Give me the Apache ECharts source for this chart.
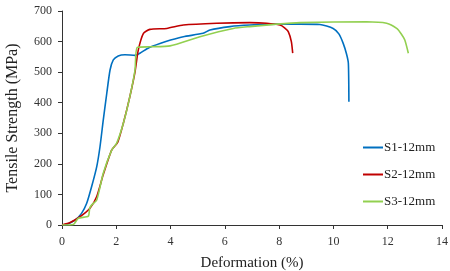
<!DOCTYPE html>
<html>
<head>
<meta charset="utf-8">
<script src="https://cdn.jsdelivr.net/npm/echarts@6/dist/echarts.min.js"></script>
<style>
  html, body { margin: 0; padding: 0; background: #fff; }
  #chart { width: 450px; height: 271px; }
</style>
</head>
<body>
<div id="chart"></div>
<script>
// deformation (%) / tensile strength (MPa) pairs
var s1X = [0, 0.17, 0.48, 0.72, 0.91, 1.09, 1.28, 1.4, 1.52, 1.65, 1.77, 1.89, 2.07, 2.32, 2.69, 2.87, 3.2, 3.61, 4.0, 4.47, 5.2, 5.45, 6.19, 6.92, 7.91, 8.77, 9.5, 9.99, 10.2, 10.36, 10.48, 10.55, 10.57];
var s1Y = [0, 2, 16, 38, 71, 125, 191, 256, 343, 431, 507, 540, 553, 557, 555, 562, 580, 594, 605, 616, 627, 638, 649, 654, 657, 657, 656, 643, 625, 594, 560, 529, 403];

var s2X = [0, 0.3, 0.66, 1.03, 1.28, 1.52, 1.83, 2.05, 2.26, 2.5, 2.69, 2.81, 3.0, 3.24, 3.86, 4.47, 5.7, 6.92, 7.54, 8.03, 8.2, 8.34, 8.45, 8.5];
var s2Y = [0, 8, 27, 55, 93, 165, 245, 270, 333, 420, 501, 572, 627, 640, 643, 654, 660, 662, 660, 654, 645, 632, 600, 562];

var s3X = [0, 0.42, 0.6, 0.97, 1.02, 1.09, 1.28, 1.52, 1.83, 2.01, 2.26, 2.5, 2.69, 2.77, 3.24, 3.98, 5.08, 6.31, 6.92, 7.91, 8.77, 11.22, 11.96, 12.33, 12.5, 12.63, 12.76];
var s3Y = [0, 2, 22, 29, 55, 65, 82, 169, 245, 267, 333, 420, 507, 581, 583, 586, 616, 643, 649, 657, 662, 665, 660, 643, 625, 605, 562];

var seriesNames = ['S1-12mm', 'S2-12mm', 'S3-12mm'];
var seriesColors = ['#0070C0', '#C00000', '#92D050'];

function pairs(xs, ys) {
  return xs.map(function (x, i) { return [x, ys[i]]; });
}

var chart = echarts.init(document.getElementById('chart'));
var font = 'Liberation Serif';

var option = {
  animation: false,
  backgroundColor: '#ffffff',
  grid: { left: 62, right: 8, top: 11, bottom: 46, outerBoundsMode: 'none' },
  legend: {
    orient: 'vertical',
    left: 358,
    top: 136,
    itemWidth: 20,
    itemHeight: 2,
    itemGap: 14,
    icon: 'rect',
    textStyle: { fontFamily: font, fontSize: 13, color: '#222', padding: [0, 0, 0, -4] },
    data: seriesNames
  },
  xAxis: {
    type: 'value',
    min: 0, max: 14, interval: 2,
    name: 'Deformation (%)',
    nameLocation: 'middle',
    nameGap: 31,
    nameTextStyle: { fontFamily: font, fontSize: 15, color: '#222' },
    axisLine: { lineStyle: { color: '#333', width: 1 } },
    axisTick: { show: true, length: 4, lineStyle: { color: '#333' } },
    axisLabel: { fontFamily: font, fontSize: 12, color: '#333', margin: 11 },
    splitLine: { show: false }
  },
  yAxis: {
    type: 'value',
    min: 0, max: 700, interval: 100,
    name: 'Tensile Strength (MPa)',
    nameLocation: 'middle',
    nameGap: 41,
    nameTextStyle: { fontFamily: font, fontSize: 16, color: '#222' },
    axisLine: { show: true, lineStyle: { color: '#333', width: 1 } },
    axisTick: { show: true, length: 4, lineStyle: { color: '#333' } },
    axisLabel: { fontFamily: font, fontSize: 12, color: '#333', margin: 10 },
    splitLine: { show: false }
  },
  series: [
    { name: seriesNames[0], data: pairs(s1X, s1Y) },
    { name: seriesNames[1], data: pairs(s2X, s2Y) },
    { name: seriesNames[2], data: pairs(s3X, s3Y) }
  ].map(function (s, i) {
    return {
      name: s.name,
      type: 'line',
      data: s.data,
      showSymbol: false,
      smooth: 0.2,
      color: seriesColors[i],
      lineStyle: { color: seriesColors[i], width: 1.6 }
    };
  })
};

chart.setOption(option);
</script>
</body>
</html>
